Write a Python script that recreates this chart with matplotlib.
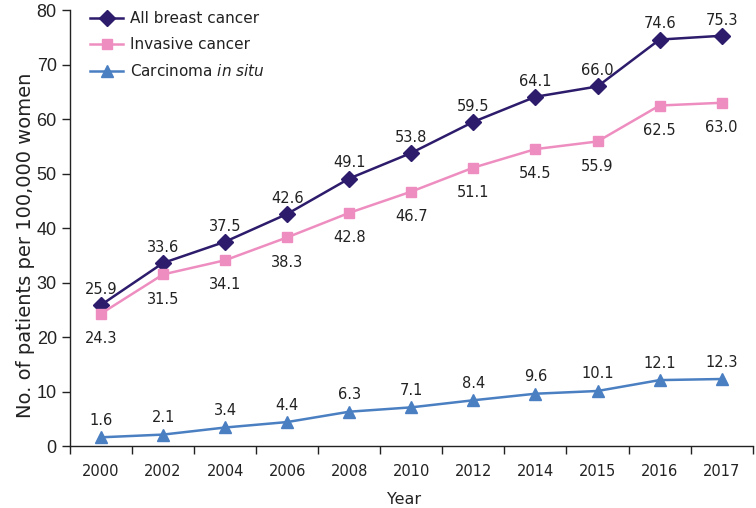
import matplotlib
matplotlib.use("Agg")
import matplotlib.pyplot as plt
import numpy as np

years = ["2000", "2002", "2004", "2006", "2008", "2010", "2012", "2014", "2015", "2016", "2017"]
all_bc = [25.9, 33.6, 37.5, 42.6, 49.1, 53.8, 59.5, 64.1, 66.0, 74.6, 75.3]
invasive = [24.3, 31.5, 34.1, 38.3, 42.8, 46.7, 51.1, 54.5, 55.9, 62.5, 63.0]
in_situ = [1.6, 2.1, 3.4, 4.4, 6.3, 7.1, 8.4, 9.6, 10.1, 12.1, 12.3]

plt.rcParams['font.family'] = ['DejaVu Sans']

c_all = '#2d1b6b'
c_inv = '#ee8ec0'
c_cis = '#4a7fc2'
txt = '#222222'
arial = ['Liberation Sans', 'DejaVu Sans']

fig = plt.figure(figsize=(7.56, 5.08), dpi=100)
ax = fig.add_axes([0.0926, 0.122, 0.903, 0.858])

x = np.arange(len(years))
ax.plot(x, all_bc, color=c_all, marker='D', markersize=8, lw=1.8, label='All breast cancer')
ax.plot(x, invasive, color=c_inv, marker='s', markersize=6.8, lw=1.8, label='Invasive cancer')
ax.plot(x, in_situ, color=c_cis, marker='^', markersize=8, lw=1.8, label='Carcinoma $\\it{in\\ situ}$')

for xi, v in zip(x, all_bc):
    ax.annotate(f"{v:.1f}", (xi, v), xytext=(0, 8), textcoords='offset points',
                ha='center', va='baseline', fontsize=10.5, color=txt)
for xi, v in zip(x, invasive):
    ax.annotate(f"{v:.1f}", (xi, v), xytext=(0, -21), textcoords='offset points',
                ha='center', va='baseline', fontsize=10.5, color=txt)
for xi, v in zip(x, in_situ):
    ax.annotate(f"{v:.1f}", (xi, v), xytext=(0, 9), textcoords='offset points',
                ha='center', va='baseline', fontsize=10.5, color=txt)

ax.set_xlim(-0.5, len(years) - 0.5)
ax.set_ylim(0, 80)
ax.set_yticks(np.arange(0, 81, 10))
ax.tick_params(axis='y', labelsize=13, colors=txt, length=6, width=1)
for lab in ax.get_yticklabels():
    lab.set_family(arial)
ax.set_xticks(x)
ax.set_xticklabels(years)
ax.set_xticks(np.arange(-0.5, len(years), 1), minor=True)
ax.tick_params(axis='x', which='major', length=0, labelsize=10.5, colors=txt, pad=13)
ax.tick_params(axis='x', which='minor', length=6, width=1, color='#222222')

for s in ['top', 'right']:
    ax.spines[s].set_visible(False)
for s in ['left', 'bottom']:
    ax.spines[s].set_color('#222222')
    ax.spines[s].set_linewidth(1)

ax.set_xlabel('Year', fontsize=11.5, color=txt)
ax.xaxis.set_label_coords(0.49, -0.105)
ax.set_ylabel('No. of patients per 100,000 women', fontsize=14, color=txt)
ax.yaxis.set_label_coords(-0.051, 0.46)

leg = ax.legend(loc='upper left', bbox_to_anchor=(0.029, 0.998), frameon=False, fontsize=11,
                handlelength=2.2, handletextpad=0.45, labelspacing=0.72, borderaxespad=0,
                borderpad=0)
for t in leg.get_texts():
    t.set_color(txt)

fig.savefig('out.png', dpi=100)
